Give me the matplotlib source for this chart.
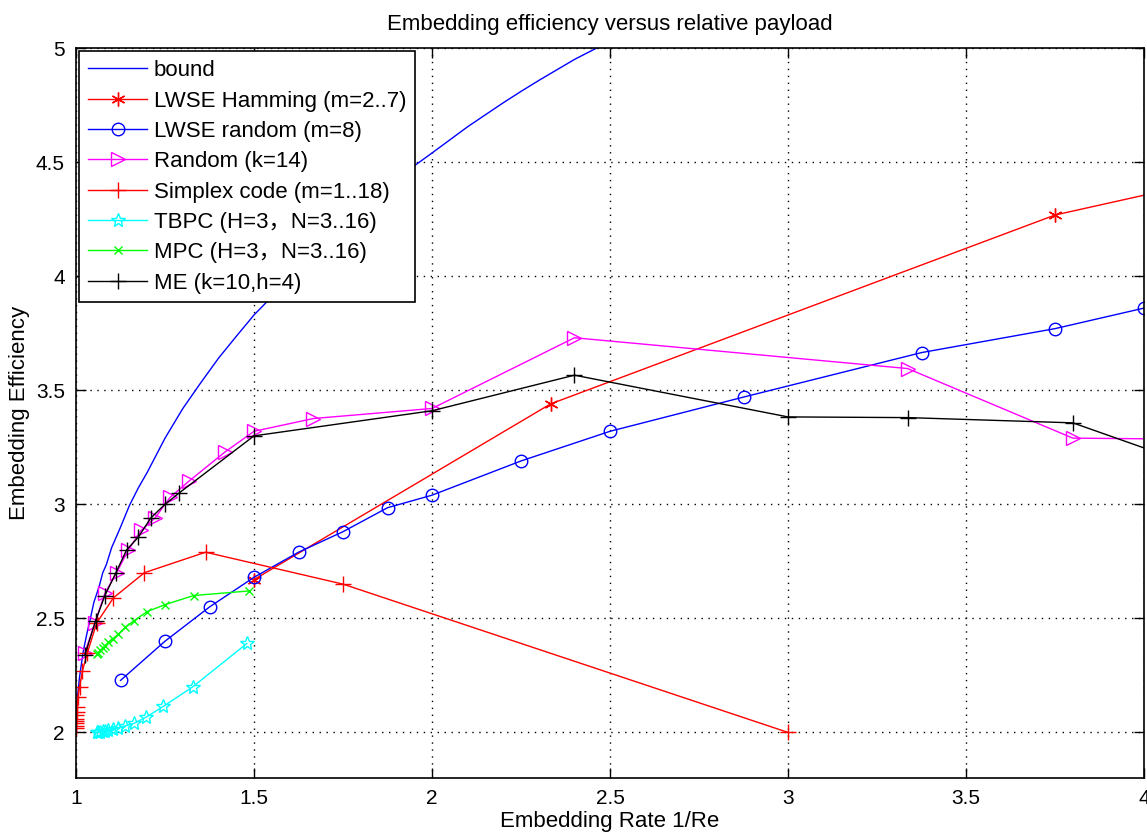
import matplotlib
matplotlib.use("Agg")
import matplotlib.pyplot as plt

plt.rcParams["font.family"] = ["Liberation Sans", "Noto Sans CJK SC", "DejaVu Sans"]

# values
bound_x = [1.0, 1.002, 1.005, 1.01, 1.015, 1.02, 1.03, 1.04, 1.05, 1.065, 1.075,
           1.085, 1.1, 1.125, 1.15, 1.175, 1.2, 1.25, 1.3, 1.35, 1.4, 1.45, 1.5,
           1.6, 1.65, 1.7, 1.75, 1.8, 1.85, 1.9, 2.0, 2.1, 2.2, 2.25, 2.3, 2.4,
           2.5, 2.55]
bound_y = [2.0, 2.107, 2.17, 2.245, 2.30, 2.353, 2.43, 2.497, 2.57, 2.64, 2.70,
           2.735, 2.81, 2.90, 2.995, 3.072, 3.14, 3.29, 3.42, 3.532, 3.64, 3.736,
           3.83, 3.99, 4.08, 4.154, 4.23, 4.29, 4.366, 4.427, 4.54, 4.655, 4.76,
           4.81, 4.858, 4.95, 5.03, 5.06]

lwse_ham_x = [1.5, 2.333, 3.75, 6.2]
lwse_ham_y = [2.67, 3.44, 4.268, 5.12]

lwse_rand_x = [1.125, 1.25, 1.375, 1.5, 1.625, 1.75, 1.875, 2.0, 2.25, 2.5, 2.875,
               3.375, 3.75, 4.0]
lwse_rand_y = [2.228, 2.40, 2.55, 2.68, 2.79, 2.88, 2.985, 3.04, 3.19, 3.32, 3.47,
               3.665, 3.77, 3.86]

random_x = [1.025, 1.053, 1.081, 1.114, 1.147, 1.183, 1.222, 1.264, 1.316, 1.419,
            1.5, 1.667, 2.0, 2.4, 3.336, 3.8, 4.5]
random_y = [2.35, 2.48, 2.61, 2.70, 2.80, 2.886, 2.94, 3.03, 3.10, 3.23,
            3.32, 3.376, 3.42, 3.73, 3.595, 3.29, 3.28]

simplex_x = [3.0, 1.75, 1.364, 1.192, 1.105, 1.058, 1.032, 1.018, 1.0099, 1.0054,
             1.0029, 1.0016, 1.0009, 1.0005, 1.0002, 1.0001, 1.0001, 1.0]
simplex_y = [2.0, 2.65, 2.79, 2.70, 2.59, 2.48, 2.35, 2.27, 2.20, 2.155,
             2.11, 2.09, 2.075, 2.06, 2.05, 2.04, 2.03, 2.02]

tbpc_x = [1.48, 1.328, 1.245, 1.197, 1.163, 1.138, 1.118, 1.103, 1.091, 1.082,
          1.075, 1.068, 1.063, 1.058]
tbpc_y = [2.39, 2.20, 2.114, 2.067, 2.04, 2.028, 2.02, 2.014, 2.01, 2.007,
          2.005, 2.003, 2.001, 2.0]

mpc_x = [1.485, 1.33, 1.25, 1.20, 1.163, 1.138, 1.118, 1.103, 1.091, 1.082,
         1.075, 1.068, 1.063, 1.058]
mpc_y = [2.62, 2.60, 2.56, 2.53, 2.49, 2.46, 2.43, 2.41, 2.395, 2.38,
         2.37, 2.36, 2.35, 2.345]

me_x = [1.025, 1.055, 1.081, 1.112, 1.142, 1.175, 1.21, 1.25, 1.29, 1.5, 2.0, 2.4,
        3.0, 3.336, 3.8, 4.2]
me_y = [2.34, 2.49, 2.60, 2.70, 2.80, 2.856, 2.94, 3.00, 3.05, 3.30, 3.41, 3.566,
        3.383, 3.38, 3.357, 3.137]

x_ticks = [1, 1.5, 2, 2.5, 3, 3.5, 4]
x_tick_labels = ["1", "1.5", "2", "2.5", "3", "3.5", "4"]
y_ticks = [2, 2.5, 3, 3.5, 4, 4.5, 5]
y_tick_labels = ["2", "2.5", "3", "3.5", "4", "4.5", "5"]

fig = plt.figure(figsize=(11.47, 8.34), dpi=100)
ax = fig.add_axes([0.0663, 0.0671, 0.9311, 0.8753])

lw = 1.0
asterisk = (6, 2, 0)
ax.plot(bound_x, bound_y, color="#0000ff", lw=lw, label="bound")
ax.plot(lwse_ham_x, lwse_ham_y, color="#ff0000", lw=lw, marker=asterisk, ms=10,
        mew=1.0, label="LWSE Hamming (m=2..7)")
ax.plot(lwse_rand_x, lwse_rand_y, color="#0000ff", lw=lw, marker="o", ms=9,
        mfc="none", mew=1.0, label="LWSE random (m=8)")
ax.plot(random_x, random_y, color="#ff00ff", lw=lw, marker=">", ms=10,
        mfc="none", mew=1.0, label="Random (k=14)")
ax.plot(simplex_x, simplex_y, color="#ff0000", lw=lw, marker="+", ms=12,
        mew=1.0, label="Simplex code (m=1..18)")
ax.plot(tbpc_x, tbpc_y, color="#00ffff", lw=lw, marker="*", ms=10,
        mfc="none", mew=1.0, label="TBPC (H=3，N=3..16)")
ax.plot(mpc_x, mpc_y, color="#00ff00", lw=lw, marker="x", ms=6,
        mew=1.0, label="MPC (H=3，N=3..16)")
ax.plot(me_x, me_y, color="#000000", lw=lw, marker="+", ms=12,
        mew=1.0, label="ME (k=10,h=4)")

ax.set_xlim(1, 4)
ax.set_ylim(1.8, 5)
ax.set_xticks(x_ticks)
ax.set_xticklabels(x_tick_labels)
ax.set_yticks(y_ticks)
ax.set_yticklabels(y_tick_labels)
ax.tick_params(direction="in", length=7, width=1, top=True, right=True,
               labelsize=15, pad=8)
ax.grid(True, color="black", linestyle=(0, (1, 4)), lw=1.0)
for s in ax.spines.values():
    s.set_linewidth(1.2)

ax.set_title("Embedding efficiency versus relative payload", fontsize=16, pad=13)
ax.set_xlabel("Embedding Rate 1/Re", fontsize=16, labelpad=2)
ax.set_ylabel("Embedding Efficiency", fontsize=16, labelpad=4)

leg = ax.legend(loc="upper left", fontsize=16, frameon=True, fancybox=False,
                framealpha=1, edgecolor="black", borderaxespad=0.15,
                handlelength=2.65, labelspacing=0.42, borderpad=0.4,
                handletextpad=0.3)
leg.get_frame().set_linewidth(1.2)

fig.savefig("out.png", dpi=100)
